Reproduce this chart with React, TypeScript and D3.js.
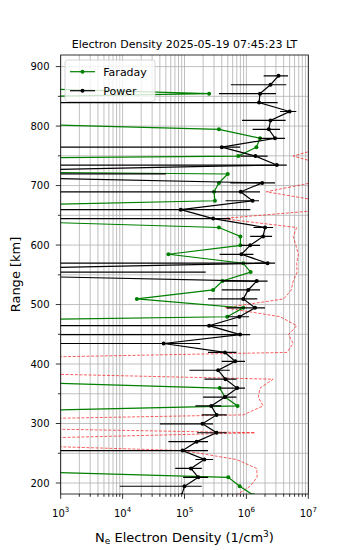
import React, { useRef, useEffect } from 'react';
import * as d3 from 'd3';

// range gates [km]
const ranges = [
  179.5, 194.5, 209.5, 224.5, 239.5, 254.5, 269.5, 284.5, 299.5, 314.5,
  329.5, 344.5, 359.5, 374.5, 389.5, 404.5, 419.5, 434.5, 449.5, 464.5,
  479.5, 494.5, 509.5, 524.5, 539.5, 554.5, 569.5, 584.5, 599.5, 614.5,
  629.5, 644.5, 659.5, 674.5, 689.5, 704.5, 719.5, 734.5, 749.5, 764.5,
  779.5, 794.5, 809.5, 824.5, 839.5, 854.5, 869.5, 884.5,
];

// Faraday density (1/cm^3), tiny values sit off the left edge
const faraday = [
  1.3e6, 7.8e5, 5.1e5, 4, 1e-3, 1e-3, 1e-3, 1e-3, 1e-3, 0.3,
  7.2e5, 4.5e5, 3.7e5, 6.5, 1e-3, 1e-3, 1e-3, 1e-3, 1e-3, 1e-4,
  4.9e5, 8.9e5, 1.7e4, 2.9e5, 4.1e5, 1.17e6, 8.9e5, 5.5e4, 8e5, 8e5,
  3.6e5, 5.5, 0.06, 3.1e5, 3.0e5, 3.6e5, 5e5, 1e-11, 7.4e5, 1.45e6,
  1.66e6, 3.6e5, 1.3, 1e-3, 1e-3, 2.5e5, 2, 1e-3,
];

// Power density and its error bar ends (0 = below the axis)
const power = [
  9e4, 1.0e5, 1.67e5, 1.27e5, 2.1e5, 9.3e4, 1.57e5, 3.3e5, 1.95e5, 3.3e5,
  2.7e5, 4.5e5, 7.1e5, 4.6e5, 3.5e5, 6.6e5, 4.5e5, 4.6e4, 7.9e5, 2.5e5,
  7.7e5, 1.38e6, 8.9e5, 1.07e6, 1.47e6, 0.15, 2.2e6, 8.3e5, 1.15e6, 1.86e6,
  2.0e6, 2.9e5, 8.7e4, 1.26e6, 8.1e5, 1.8e6, 0.2, 3.1e6, 1.4e6, 4.0e5,
  2.9e6, 2.3e6, 2.45e6, 5.0e6, 1.6e6, 1.66e6, 2.45e6, 3.3e6,
];
const powerLo = [
  4e4, 9e3, 9.5e4, 7.1e4, 1.5e5, 0, 5.5e4, 1.6e5, 4e4, 1.9e5,
  1.5e5, 2e5, 3.7e5, 2.1e5, 1.2e5, 4e5, 2.4e5, 0, 0, 0,
  5e5, 4.8e5, 2.4e5, 4e5, 4e5, 0, 0, 3.7e5, 8e5, 1.15e6,
  1.3e6, 0, 0, 4.6e5, 0, 5.5e5, 0, 0, 8e5, 0,
  1.6e6, 1.26e6, 8.5e5, 3.5e6, 0, 3.6e5, 5.6e5, 1.9e6,
];
const powerHi = [
  1.4e5, 1.9e5, 2.4e5, 1.9e5, 2.9e5, 2.4e5, 2.4e5, 4.8e5, 2.9e5, 4.8e5,
  3.9e5, 6.9e5, 9.5e5, 6.9e5, 5.4e5, 9.5e5, 6.9e5, 1.8e5, 1.15e6, 7.2e5,
  1.1e6, 2e6, 1.5e6, 1.66e6, 2.2e6, 2.2e5, 2.9e6, 1.3e6, 1.66e6, 2.6e6,
  2.7e6, 5.5e5, 1.16e6, 1.6e6, 1.66e6, 2.9e6, 5e4, 4.5e6, 2.2e6, 7.9e5,
  4.2e6, 3.5e6, 4.3e6, 6.4e6, 3.2e6, 3.0e6, 4.4e6, 4.7e6,
];

// red dashed profile on the same gates
const profile = [
  6.8e5, 1.15e6, 1.49e6, 1.47e6, 6.9e5, 9.5e4, 1.9, 1.38e6, 0.012, 8.9e5,
  1.86e6, 1.55e6, 1.66e6, 2.7e6, 1.3, 0.12, 4.5e6, 5.7e6, 4.8e6, 6.5e6,
  3.5e6, 4.5e5, 4.0e6, 5.3e6, 5.7e6, 6.6e6, 6.5e6, 6.9e6, 6.3e6, 5.7e6,
  6.5e6, 4.0e5, 2e7, 1.5e7, 2.1e6, 1.1e7, 2e7, 1.9e7, 5.7e6, 1.8e7,
  2e7, 2e7, 2e7, 2e7, 2e7, 2e7, 2e7, 2e7,
];

const xTicks = [1e3, 1e4, 1e5, 1e6, 1e7];
const xExp = ['3', '4', '5', '6', '7'];
const yTicks = [200, 300, 400, 500, 600, 700, 800, 900];
const yMinor = [250, 350, 450, 550, 650, 750, 850];

const W = 350;
const H = 550;
const FONT = 'DejaVu Sans, sans-serif';

const App: React.FC = () => {
  const svgRef = useRef<SVGSVGElement>(null);

  useEffect(() => {
    if (!svgRef.current) return;
    const svg = d3.select(svgRef.current);
    svg.selectAll('*').remove();

    const left = 60.7, right = 308.3, top = 55, bottom = 494;

    const x = d3.scaleLog().domain([1e3, 1e7]).range([left, right]);
    const y = d3.scaleLinear().domain([181.5, 919.5]).range([bottom, top]);

    svg.append('rect').attr('width', W).attr('height', H).attr('fill', '#fff');

    svg.append('defs').append('clipPath').attr('id', 'plot-clip')
      .append('rect')
      .attr('x', left).attr('y', top)
      .attr('width', right - left).attr('height', bottom - top);

    // minor x positions
    const xMinor: number[] = [];
    for (let d = 1e3; d < 1e7; d *= 10) {
      for (let m = 2; m <= 9; m++) xMinor.push(d * m);
    }

    // grid
    const grid = svg.append('g').attr('stroke', '#b0b0b0').attr('stroke-width', 0.8);
    grid.selectAll('.vg')
      .data([...xTicks, ...xMinor])
      .enter().append('line')
      .attr('x1', (d) => x(d)).attr('x2', (d) => x(d))
      .attr('y1', top).attr('y2', bottom);
    grid.selectAll('.hg')
      .data([...yTicks, ...yMinor])
      .enter().append('line')
      .attr('x1', left).attr('x2', right)
      .attr('y1', (d) => y(d)).attr('y2', (d) => y(d));

    const plot = svg.append('g').attr('clip-path', 'url(#plot-clip)');

    const line = d3.line<number>()
      .x((d) => x(d))
      .y((_, i) => y(ranges[i]));

    // red dashed profile
    plot.append('path')
      .datum(profile)
      .attr('d', line)
      .attr('fill', 'none')
      .attr('stroke', 'red')
      .attr('stroke-opacity', 0.75)
      .attr('stroke-width', 0.85)
      .attr('stroke-dasharray', '3,1.6');

    // Faraday
    plot.append('path')
      .datum(faraday)
      .attr('d', line)
      .attr('fill', 'none')
      .attr('stroke', 'green')
      .attr('stroke-width', 1.2);
    plot.selectAll('.fdot')
      .data(faraday)
      .enter().append('circle')
      .attr('cx', (d) => x(d))
      .attr('cy', (_, i) => y(ranges[i]))
      .attr('r', 2)
      .attr('fill', 'green');

    // Power error bars
    plot.selectAll('.ebar')
      .data(power)
      .enter().append('line')
      .attr('x1', (_, i) => (powerLo[i] > 0 ? x(powerLo[i]) : left - 5))
      .attr('x2', (_, i) => x(powerHi[i]))
      .attr('y1', (_, i) => y(ranges[i]))
      .attr('y2', (_, i) => y(ranges[i]))
      .attr('stroke', 'black')
      .attr('stroke-width', 1.2);

    // Power
    plot.append('path')
      .datum(power)
      .attr('d', line)
      .attr('fill', 'none')
      .attr('stroke', 'black')
      .attr('stroke-width', 1.2);
    plot.selectAll('.pdot')
      .data(power)
      .enter().append('circle')
      .attr('cx', (d) => x(d))
      .attr('cy', (_, i) => y(ranges[i]))
      .attr('r', 2)
      .attr('fill', 'black');

    // frame
    svg.append('rect')
      .attr('x', left).attr('y', top)
      .attr('width', right - left).attr('height', bottom - top)
      .attr('fill', 'none').attr('stroke', 'black').attr('stroke-width', 0.8);

    // x ticks
    const xa = svg.append('g').attr('stroke', 'black').attr('stroke-width', 0.8);
    xa.selectAll('.xt').data(xTicks).enter().append('line')
      .attr('x1', (d) => x(d)).attr('x2', (d) => x(d))
      .attr('y1', bottom).attr('y2', bottom + 4.9);
    xa.selectAll('.xm').data(xMinor).enter().append('line')
      .attr('x1', (d) => x(d)).attr('x2', (d) => x(d))
      .attr('y1', bottom).attr('y2', bottom + 2.8);

    const xl = svg.selectAll('.xl').data(xTicks).enter().append('text')
      .attr('x', (d) => x(d))
      .attr('y', 516.5)
      .attr('text-anchor', 'middle')
      .attr('font-family', FONT)
      .attr('font-size', 10)
      .attr('fill', 'black');
    xl.append('tspan').text('10');
    xl.append('tspan')
      .attr('dy', -4.5)
      .attr('font-size', 7)
      .text((_, i) => xExp[i]);

    // y ticks
    const ya = svg.append('g').attr('stroke', 'black').attr('stroke-width', 0.8);
    ya.selectAll('.yt').data(yTicks).enter().append('line')
      .attr('x1', left - 4.9).attr('x2', left)
      .attr('y1', (d) => y(d)).attr('y2', (d) => y(d));
    ya.selectAll('.ym').data(yMinor).enter().append('line')
      .attr('x1', left - 2.8).attr('x2', left)
      .attr('y1', (d) => y(d)).attr('y2', (d) => y(d));

    svg.selectAll('.yl').data(yTicks).enter().append('text')
      .attr('x', 49.5)
      .attr('y', (d) => y(d) + 3.6)
      .attr('text-anchor', 'end')
      .attr('font-family', FONT)
      .attr('font-size', 10)
      .attr('fill', 'black')
      .text((d) => d);

    // title
    svg.append('text')
      .attr('x', (left + right) / 2)
      .attr('y', 47.5)
      .attr('text-anchor', 'middle')
      .attr('font-family', FONT)
      .attr('font-size', 11)
      .text('Electron Density 2025-05-19 07:45:23 LT');

    // axis labels
    const xlab = svg.append('text')
      .attr('x', (left + right) / 2)
      .attr('y', 541.5)
      .attr('text-anchor', 'middle')
      .attr('font-family', FONT)
      .attr('font-size', 13);
    xlab.append('tspan').text('N');
    xlab.append('tspan').attr('font-size', 9).attr('dy', 2.5).text('e');
    xlab.append('tspan').attr('dy', -2.5).text(' Electron Density (1/cm');
    xlab.append('tspan').attr('font-size', 9).attr('dy', -5).text('3');
    xlab.append('tspan').attr('dy', 5).text(')');

    svg.append('text')
      .attr('transform', `translate(20,${(top + bottom) / 2}) rotate(-90)`)
      .attr('text-anchor', 'middle')
      .attr('font-family', FONT)
      .attr('font-size', 13)
      .text('Range [km]');

    // legend
    const lg = svg.append('g');
    lg.append('rect')
      .attr('x', 65).attr('y', 60)
      .attr('width', 90).attr('height', 41.5)
      .attr('rx', 2.5)
      .attr('fill', 'white').attr('fill-opacity', 0.8)
      .attr('stroke', '#cccccc').attr('stroke-width', 0.8);
    const entries = [
      { label: 'Faraday', color: 'green', yy: 71.7 },
      { label: 'Power', color: 'black', yy: 90.7 },
    ];
    entries.forEach((e) => {
      lg.append('line')
        .attr('x1', 70).attr('x2', 95)
        .attr('y1', e.yy).attr('y2', e.yy)
        .attr('stroke', e.color).attr('stroke-width', 1.2);
      lg.append('circle')
        .attr('cx', 82.5).attr('cy', e.yy).attr('r', 2)
        .attr('fill', e.color);
      lg.append('text')
        .attr('x', 103.3).attr('y', e.yy + 4)
        .attr('font-family', FONT)
        .attr('font-size', 11)
        .text(e.label);
    });
  }, []);

  return (
    <svg
      ref={svgRef}
      width={W}
      height={H}
      style={{ position: 'absolute', left: 0, top: 0 }}
    />
  );
};

export default App;
